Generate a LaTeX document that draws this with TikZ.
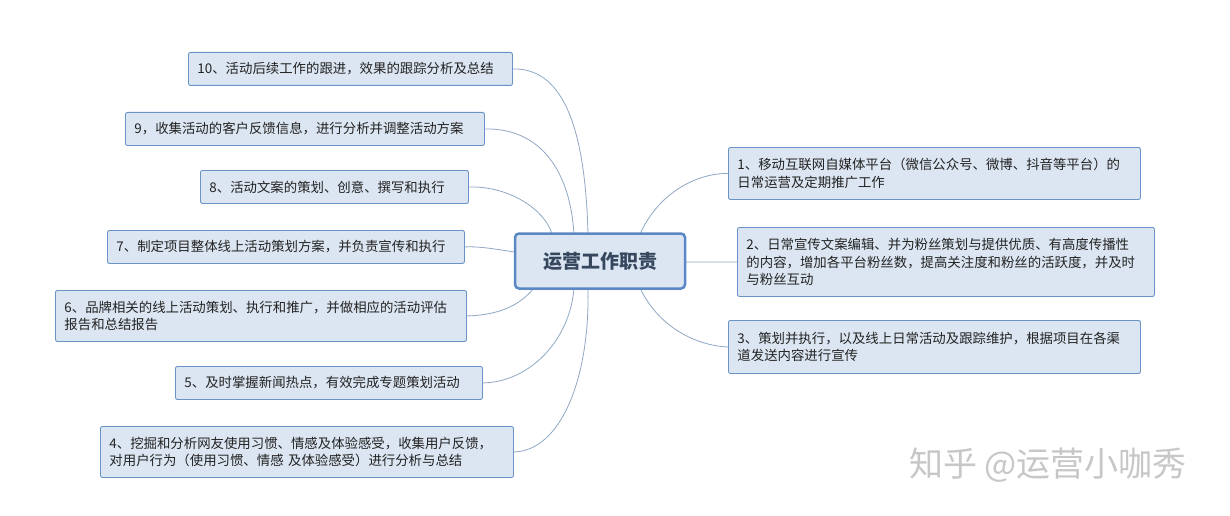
\documentclass[tikz,border=0pt]{standalone}
\usepackage{fontspec}
\setmainfont{Noto Sans CJK SC}
\begin{document}
\begin{tikzpicture}[x=1pt,y=-1pt,
  box/.style={draw=boxline,fill=boxfill,rounded corners=2pt,line width=0.9pt,anchor=north west,inner sep=0pt,align=left,font=\fontsize{13.4}{17.5}\selectfont,text=txt},
  link/.style={draw=linkc,line width=0.8pt}]
\definecolor{boxfill}{HTML}{DCE6F2}
\definecolor{boxline}{HTML}{6A94C8}
\definecolor{linkc}{HTML}{8FA8C4}
\definecolor{txt}{HTML}{222222}
\definecolor{center}{HTML}{5B88C4}
\definecolor{ctxt}{HTML}{36475E}
\useasboundingbox (0,0) rectangle (1230,516);
\fill[white] (0,0) rectangle (1230,516);
\node[box,minimum width=324,minimum height=33,text width=316] (n10) at (188,52) {\hspace*{5pt}10、活动后续工作的跟进，效果的跟踪分析及总结};
\node[box,minimum width=359,minimum height=33,text width=351] (n9) at (125,112) {\hspace*{5pt}9，收集活动的客户反馈信息，进行分析并调整活动方案};
\node[box,minimum width=268,minimum height=33,text width=260] (n8) at (200,170) {\hspace*{5pt}8、活动文案的策划、创意、撰写和执行};
\node[box,minimum width=357,minimum height=33,text width=349] (n7) at (107,230) {\hspace*{5pt}7、制定项目整体线上活动策划方案，并负责宣传和执行};
\node[box,minimum width=411,minimum height=51,text width=403] (n6) at (55,290) {\hspace*{5pt}6、品牌相关的线上活动策划、执行和推广，并做相应的活动评估\\\hspace*{5pt}报告和总结报告};
\node[box,minimum width=307,minimum height=33,text width=299] (n5) at (175,366) {\hspace*{5pt}5、及时掌握新闻热点，有效完成专题策划活动};
\node[box,minimum width=413,minimum height=51,text width=405] (n4) at (100,426) {\hspace*{5pt}4、挖掘和分析网友使用习惯、情感及体验感受，收集用户反馈，\\\hspace*{5pt}对用户行为（使用习惯、情感 及体验感受）进行分析与总结};
\node[box,minimum width=412,minimum height=52,text width=404] (n1) at (728,147) {\hspace*{5pt}1、移动互联网自媒体平台（微信公众号、微博、抖音等平台）的\\\hspace*{5pt}日常运营及定期推广工作};
\node[box,minimum width=417,minimum height=69,text width=409] (n2) at (737,227) {\hspace*{5pt}2、日常宣传文案编辑、并为粉丝策划与提供优质、有高度传播性\\\hspace*{5pt}的内容，增加各平台粉丝数，提高关注度和粉丝的活跃度，并及时\\\hspace*{5pt}与粉丝互动};
\node[box,minimum width=412,minimum height=53,text width=404] (n3) at (728,320) {\hspace*{5pt}3、策划并执行，以及线上日常活动及跟踪维护，根据项目在各渠\\\hspace*{5pt}道发送内容进行宣传};
\coordinate (s10) at (588,234);
\coordinate (s9) at (574,234);
\coordinate (s8) at (552,234);
\coordinate (s7) at (515,252);
\coordinate (s6) at (534,288);
\coordinate (s5) at (574,288);
\coordinate (s4) at (588,288);
\coordinate (s1) at (640,234);
\coordinate (s2) at (686,262);
\coordinate (s3) at (640,288);
\draw[link] (s10) .. controls (585,120) and (560,68) .. (n10.east);
\draw[link] (s9) .. controls (570,170) and (540,128) .. (n9.east);
\draw[link] (s8) .. controls (545,210) and (510,186) .. (n8.east);
\draw[link] (s7) .. controls (500,250) and (480,246) .. (n7.east);
\draw[link] (s6) .. controls (520,305) and (500,315) .. (n6.east);
\draw[link] (s5) .. controls (570,340) and (530,382) .. (n5.east);
\draw[link] (s4) .. controls (590,380) and (560,451) .. (n4.east);
\draw[link] (s1) .. controls (660,190) and (700,173) .. (n1.west);
\draw[link] (s2) -- (n2.west);
\draw[link] (s3) .. controls (660,330) and (700,346) .. (n3.west);
\node[draw=center,fill=boxfill,line width=2.5pt,rounded corners=4pt,minimum width=170,minimum height=55,font=\fontsize{19}{22}\selectfont\bfseries,text=ctxt] (c) at (600,261) {运营工作职责};
\node[text=black!22,font=\fontsize{34}{36}\selectfont,anchor=center] (wm) at (1048,465) {知乎 @运营小咖秀};
\end{tikzpicture}
\end{document}
